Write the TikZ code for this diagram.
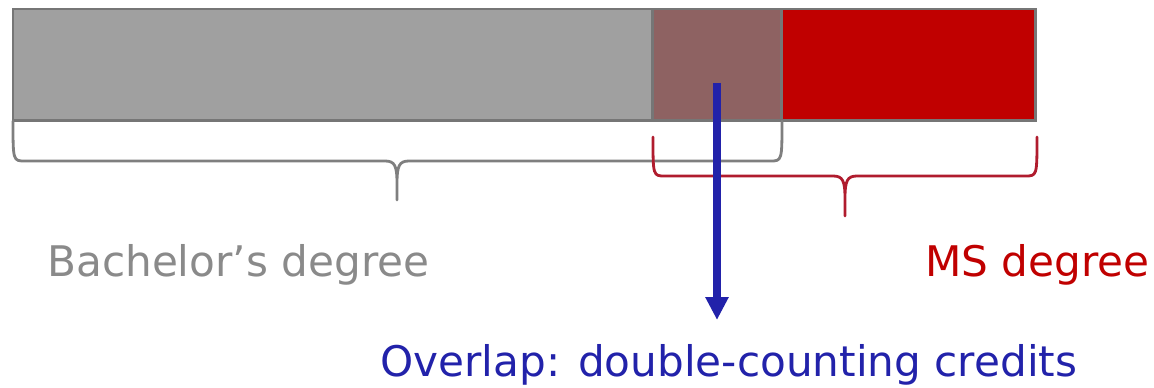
\documentclass[tikz,border=0pt]{standalone}
\usepackage{fontspec}
\setmainfont{DejaVu Sans}
\usetikzlibrary{positioning,arrows.meta}

\definecolor{bachgray}{HTML}{A0A0A0}
\definecolor{overlapbrown}{HTML}{8E6262}
\definecolor{msred}{HTML}{C00000}
\definecolor{edgegray}{HTML}{767676}
\definecolor{bracegray}{HTML}{7F7F7F}
\definecolor{bracered}{HTML}{B01C2E}
\definecolor{overlapblue}{HTML}{2222AA}
\definecolor{labelgray}{HTML}{8A8A8A}

\tikzset{
  segment/.style={draw=edgegray, line width=1.7pt, inner sep=0pt, outer sep=0pt,
    minimum height=2.24cm},
  brace/.style={line width=1.6pt, line cap=round, line join=round},
  label/.style={font=\fontsize{24}{28}\selectfont, inner sep=0pt},
}

\begin{document}
\begin{tikzpicture}[x=0.02cm, y=-0.02cm]
\useasboundingbox (0,0) rectangle (1154,388);

% Credit bar
\node[segment, fill=bachgray, minimum width=12.8cm, anchor=north west] (bach) at (13,9) {};
\node[segment, fill=overlapbrown, minimum width=2.58cm, right=0pt of bach] (overlap) {};
\node[segment, fill=msred, minimum width=5.08cm, right=0pt of overlap] (ms) {};

% Braces
\draw[brace, bracegray] (13,121) .. controls (13,161) and (13,161) .. (25,161) -- (385,161)
  .. controls (395,161) and (397,166) .. (397,184) -- (397,200) -- (397,184)
  .. controls (397,166) and (399,161) .. (409,161) -- (770,161)
  .. controls (782,161) and (782,161) .. (782,121);
\draw[brace, bracered] (653,137) .. controls (653,176) and (653,176) .. (665,176) -- (833,176)
  .. controls (843,176) and (845,181) .. (845,199) -- (845,216) -- (845,199)
  .. controls (845,181) and (847,176) .. (857,176) -- (1025,176)
  .. controls (1037,176) and (1037,176) .. (1037,137);

% Labels
\node[label, text=labelgray, anchor=base west] (bachtext) at (47,277) {Bachelor’s degree};
\node[label, text=msred, anchor=base east] (mstext) at (1150,277) {MS degree};
\node[label, text=overlapblue, anchor=base west] (overlaptext) at (380,377) {Overlap: double-counting credits};

% Arrow
\coordinate (src) at (717,83);
\coordinate (tip) at (717,320);
\draw[overlapblue, line width=4pt, -{Triangle[length=0.46cm, width=0.44cm]}] (src) -- (tip);
\end{tikzpicture}
\end{document}
